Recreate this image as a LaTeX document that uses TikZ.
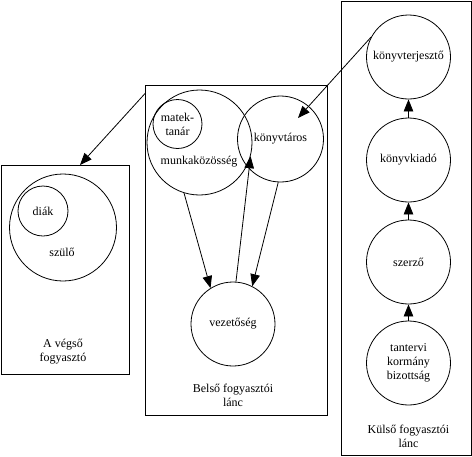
\documentclass[tikz,border=0pt]{standalone}
\usepackage{fontspec}
\setmainfont{Liberation Serif}
\usetikzlibrary{arrows.meta}
\begin{document}
\begin{tikzpicture}[x=1pt,y=-1pt,
  txt/.style={font=\fontsize{12}{14}\selectfont, inner sep=0pt, align=center},
  circ/.style={draw, circle, line width=0.8pt, inner sep=0pt, minimum size=#1, font=\fontsize{12}{14}\selectfont, align=center},
  boxx/.style={draw, line width=0.9pt, anchor=north west, inner sep=0pt},
  arr/.style={line width=0.8pt, -{Triangle[length=12pt,width=9.5pt]}}]
\useasboundingbox (0,0) rectangle (472,456);
% boxes
\node[boxx, minimum width=128, minimum height=209] (lbox) at (0.5,165) {};
\node[boxx, minimum width=182, minimum height=330] (mbox) at (145,85) {};
\node[boxx, minimum width=130, minimum height=454] (rbox) at (341,1) {};
% left
\node[circ=107] (szulo) at (63,227.5) {};
\node[circ=50] (diak) at (43,211) {diák};
\node[txt] (szulot) at (62,252) {szülő};
\node[txt] (lboxt) at (63,352) {A végső\\fogyasztó};
% middle
\node[circ=105] (munk) at (199.5,142.5) {};
\node[circ=49] (matek) at (177.5,124) {matek-\\tanár};
\node[txt] (munkt) at (199,162) {munkaközösség};
\node[circ=86] (ktaros) at (280.5,139) {könyvtáros};
\node[circ=84] (vez) at (233,324) {vezetőség};
\node[txt] (mboxt) at (233,395) {Belső fogyasztói\\lánc};
% right
\node[circ=84] (kterj) at (408.5,57) {könyvterjesztő};
\node[circ=84] (kkiado) at (408.5,160) {könyvkiadó};
\node[circ=84] (szerzo) at (408.5,262) {szerző};
\node[circ=84] (tant) at (408.5,363) {tantervi\\kormány\\bizottság};
\node[txt] (rboxt) at (408.5,436) {Külső fogyasztói\\lánc};
% connectors
\coordinate (c1) at (145.5,93);
\coordinate (c2) at (80,165);
\draw[arr] (c1) -- (c2);
\coordinate (kttip) at (298,118);
\draw[arr] (kterj.152) -- (kttip);
\draw[arr] (munk.-107) -- (vez.122);
\draw[arr] (vez.86) -- (munk.-15);
\draw[arr] (ktaros.-93) -- (vez.63);
\draw[arr] (tant) -- (szerzo);
\draw[arr] (szerzo) -- (kkiado);
\draw[arr] (kkiado) -- (kterj);
\end{tikzpicture}
\end{document}
